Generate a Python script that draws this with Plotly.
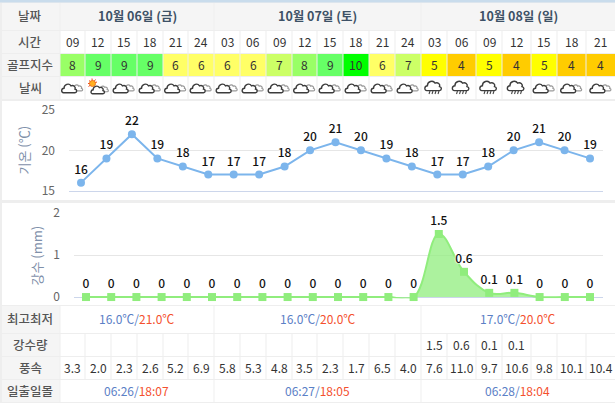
import plotly.graph_objects as go

# ---------- data ----------
dates = ["10월 06일 (금)", "10월 07일 (토)", "10월 08일 (일)"]
hours = ["09","12","15","18","21","24","03","06","09","12","15","18","21","24","03","06","09","12","15","18","21"]
golf = [8,9,9,9,6,6,6,6,7,8,9,10,6,7,5,4,5,4,5,4,4]
weather = ["c","s","c","c","c","c","c","c","c","c","c","c","c","c","r","r","r","r","c","c","c"]
temps = [16,19,22,19,18,17,17,17,18,20,21,20,19,18,17,17,18,20,21,20,19]
rain = [0,0,0,0,0,0,0,0,0,0,0,0,0,0,1.5,0.6,0.1,0.1,0,0,0]
rain_cells = ["","","","","","","","","","","","","","","1.5","0.6","0.1","0.1","","",""]
wind = ["3.3","2.0","2.3","2.6","5.2","6.9","5.8","5.3","4.8","3.5","2.3","1.7","6.5","4.0","7.6","11.0","9.7","10.6","9.8","10.1","10.4"]
minmax = [("16.0℃","21.0℃"),("16.0℃","20.0℃"),("17.0℃","20.0℃")]
sun = [("06:26","18:07"),("06:27","18:05"),("06:28","18:04")]
row_labels = ["날짜","시간","골프지수","날씨","최고최저","강수량","풍속","일출일몰"]

# ---------- layout constants (pixels) ----------
W, H = 615, 403
col_edges = [59.5,84.5,110.5,136.5,162.5,187.5,213.5,239.5,265.5,291.5,316.5,342.5,368.5,394.5,420.5,446.5,475.5,501.5,530.5,556.5,585.5,615]
day_edges = [59.5,213.5,420.5,615]
golf_colors = {4:"#ffcc00",5:"#ffff00",6:"#ffff66",7:"#ccff66",8:"#99ff66",9:"#66ff66",10:"#00ff00"}
FONT = "Noto Sans CJK KR"
BG, HEAD, WHITE = "#eeeeee", "#f5f5f5", "#ffffff"
LABEL = "#555555"
LOW, HIGH = "#5b80c6", "#f4502e"

shapes, ann = [], []

def rect(x0, y0, x1, y1, fill):
    shapes.append(dict(type="rect", xref="x", yref="y", x0=x0, y0=y0, x1=x1, y1=y1,
                       fillcolor=fill, line_width=0, layer="below"))

def text(x, y, s, color="#333333", size=12, weight=400):
    ann.append(dict(xref="x", yref="y", x=x, y=y - 0.7, text=s, showarrow=False,
                    font=dict(family=FONT, size=size, color=color, weight=weight), xanchor="center", yanchor="middle"))

def cloud(cx, cy, s, fill, line, w=1.1):
    def p(a, b):
        return f"{cx + a*s:.2f},{cy + b*s*1.05:.2f}"
    path = (f"M{p(-6.5,4)} C{p(-9,4)} {p(-9,0)} {p(-6,-0.2)} C{p(-6,-4)} {p(-1,-5.5)} {p(1,-2.5)} "
            f"C{p(3.5,-3.5)} {p(6,-1.5)} {p(5,0.5)} C{p(7.5,1)} {p(7,4)} {p(5,4)} Z")
    shapes.append(dict(type="path", xref="x", yref="y", path=path, fillcolor=fill,
                       line=dict(color=line, width=w), layer="below"))

def icon(kind, cx, cy):
    if kind == "c":
        cloud(cx + 5.5, cy - 0.5, 0.7, "#ffffff", "#9a9a9a", 1.2)
        cloud(cx - 2.5, cy, 1.0, "#ffffff", "#3c3c3c", 1.4)
    elif kind == "s":
        for dx, dy in [(-6,-5.5),(-9.5,-2),(-2.5,-9),(-9,-8),(-6,-10),(-10,-5),(-1,-6.5)]:
            shapes.append(dict(type="line", xref="x", yref="y", x0=cx-5.5, y0=cy-5, x1=cx+dx, y1=cy+dy,
                               line=dict(color="#ee4422", width=1), layer="below"))
        shapes.append(dict(type="circle", xref="x", yref="y", x0=cx-8.5, y0=cy-8, x1=cx-2.5, y1=cy-2,
                           fillcolor="#ffb020", line=dict(color="#ee7722", width=1), layer="below"))
        cloud(cx + 6, cy + 0.5, 0.65, "#ffffff", "#9a9a9a", 1.2)
        cloud(cx + 0.5, cy + 1.5, 0.9, "#ffffff", "#3c3c3c", 1.4)
    else:
        cloud(cx, cy - 2.5, 1.1, "#ffffff", "#3c3c3c", 1.4)
        for dx in (-5, -2, 1, 4):
            shapes.append(dict(type="line", xref="x", yref="y", x0=cx+dx+1, y0=cy+2.5, x1=cx+dx, y1=cy+5.5,
                               line=dict(color="#444444", width=1.1), layer="below"))

# ---------- table chrome ----------
rect(0, 0, W, H, BG)
rect(0, 0, W, 2.5, "#c9dcec")

rows_top = [(3,30),(31,53),(54,76),(77,99)]
rows_bottom = [(306,333),(334,356),(357,379),(380,402)]
all_rows = rows_top + rows_bottom
for (y0, y1), lab in zip(all_rows, row_labels):
    rect(2, y0, 59.5, y1, HEAD)
    text(30, (y0+y1)/2, lab, LABEL, 12.5, 500)

# day-merged rows
for i, d in enumerate(dates):
    x0, x1 = day_edges[i], day_edges[i+1]
    xm = (x0+x1)/2 + 0.5
    rect(x0+1, 3, x1, 30, HEAD)
    text(xm, 16.5, d, "#3d5166", 12.5, 700)
    for (y0, y1) in (rows_bottom[0], rows_bottom[3]):
        rect(x0+1, y0, x1, y1, WHITE)
    lo, hi = minmax[i]
    text(xm - 0.5, 319.5, f'<span style="color:{LOW}">{lo}/</span><span style="color:{HIGH}">{hi}</span>', LOW, 12)
    a, b = sun[i]
    text(xm - 0.5, 391, f'<span style="color:{LOW}">{a}/</span><span style="color:{HIGH}">{b}</span>', LOW, 12)

# per-column rows
for i in range(len(hours)):
    x0, x1 = col_edges[i], col_edges[i+1]
    xm = (x0+x1)/2 + 0.5
    rect(x0+1, 31, x1, 53, WHITE)
    text(xm, 42.5, hours[i])
    rect(x0+1, 54, x1, 76, golf_colors[golf[i]])
    text(xm, 65.5, str(golf[i]))
    rect(x0+1, 77, x1, 99, WHITE)
    icon(weather[i], xm, 88.5)
    rect(x0+1, 334, x1, 356, WHITE)
    if rain_cells[i]:
        text(xm, 345.5, rain_cells[i])
    rect(x0+1, 357, x1, 379, WHITE)
    text(xm, 368.5, wind[i])

# chart panels
rect(2, 101, W, 200, WHITE)
rect(2, 203, W, 305, WHITE)

# axis titles
AXT = "#7f90aa"
for x, y, s in [(23, 150.5, "기온 (℃)"), (36, 255.5, "강수 (mm)")]:
    ann.append(dict(xref="x", yref="y", x=x, y=y, text=s, showarrow=False, textangle=-90,
                    font=dict(family=FONT, size=13, color=AXT), xanchor="center", yanchor="middle"))

fig = go.Figure()
# invisible pixel frame for the table chrome
fig.add_trace(go.Scatter(x=[0, W], y=[0, H], mode="none", xaxis="x", yaxis="y", hoverinfo="skip", showlegend=False))

idx = list(range(len(temps)))
halo = "0px 0px 2px #ffffff, 0px 0px 2px #ffffff, 0px 0px 2px #ffffff"
label_font = dict(family=FONT, size=12, color="#111111", weight=500, shadow=halo)
fig.add_trace(go.Scatter(
    x=idx, y=temps, xaxis="x2", yaxis="y2", mode="lines+markers+text",
    text=[str(t) for t in temps], textposition="top center", textfont=label_font,
    line=dict(color="#7cb5ec", width=2), marker=dict(color="#7cb5ec", size=8),
    cliponaxis=False, showlegend=False))
# clipped spline + area
fig.add_trace(go.Scatter(
    x=idx, y=rain, xaxis="x3", yaxis="y3", mode="lines",
    line=dict(color="#90ed7d", width=2, shape="spline", smoothing=1.1),
    fill="tozeroy", fillcolor="rgba(144,237,125,0.75)",
    cliponaxis=True, showlegend=False, hoverinfo="skip"))
# unclipped markers + labels
fig.add_trace(go.Scatter(
    x=idx, y=rain, xaxis="x3", yaxis="y3", mode="markers+text",
    text=[f"{r:g}" for r in rain], textposition="top center", textfont=label_font,
    marker=dict(color="#90ed7d", size=8, symbol="square"),
    cliponaxis=False, showlegend=False))

def dom(a, b, total):
    return [a/total, b/total]

def xr(left, right, first, step):
    return [(left-first)/step, (right-first)/step]

grid = "#e6e6e6"
tick = dict(family=FONT, size=12, color="#666666")
fig.update_layout(
    width=W, height=H, margin=dict(l=0, r=0, t=0, b=0, pad=0, autoexpand=False), paper_bgcolor=BG, plot_bgcolor="rgba(0,0,0,0)",
    showlegend=False, shapes=shapes, annotations=ann, font=dict(family=FONT),
    xaxis=dict(domain=[0,1], range=[0,W], visible=False, fixedrange=True),
    yaxis=dict(domain=[0,1], range=[H,0], visible=False, fixedrange=True),
    xaxis2=dict(domain=dom(69,603,W), range=xr(69,603,81,25.45), anchor="y2", showgrid=False, zeroline=False,
                showticklabels=False, ticks="", showline=True, linecolor="#ccd6eb", linewidth=1),
    yaxis2=dict(domain=[1-190.7/H, 1-110/H], range=[15,25], anchor="x2", tickvals=[15,20,25], gridcolor=grid,
                zeroline=False, showline=False, tickfont=tick, ticklabelstandoff=13, ticks=""),
    xaxis3=dict(domain=dom(74,603,W), range=xr(74,603,86,25.2), anchor="y3", showgrid=False, zeroline=False,
                showticklabels=False, ticks="", showline=False),
    yaxis3=dict(domain=[1-298.3/H, 1-213/H], range=[-0.03,2], anchor="x3", tickvals=[0,1,2], gridcolor=grid,
                zeroline=True, zerolinecolor="#ccd6eb", zerolinewidth=1, showline=False, tickfont=tick, ticklabelstandoff=13, ticks=""),
)
fig.write_html("out.html", config=dict(displayModeBar=False),
               post_script="document.body.style.margin='0';document.documentElement.style.overflow='hidden';")
